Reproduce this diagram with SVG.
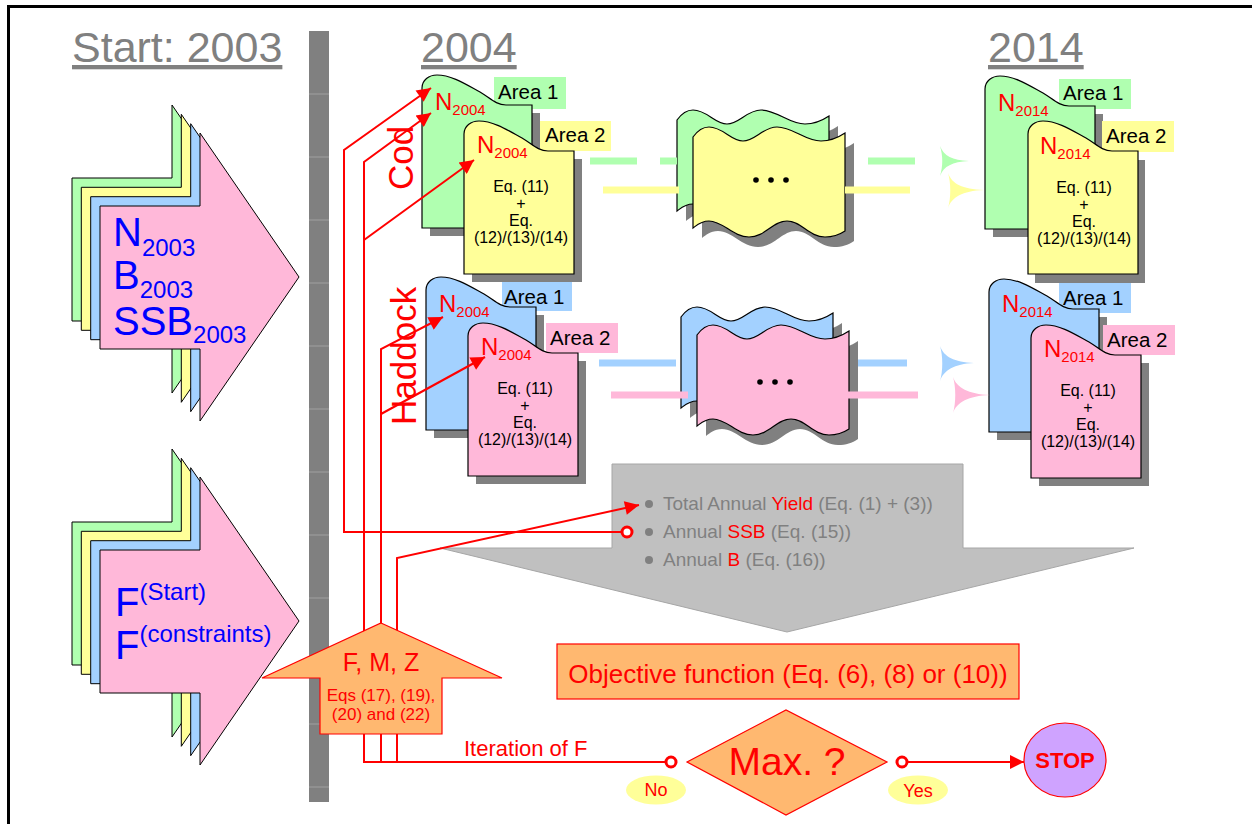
<svg xmlns="http://www.w3.org/2000/svg" xmlns:xlink="http://www.w3.org/1999/xlink" width="1252" height="824" viewBox="0 0 1252 824">
<style>
text{font-family:"Liberation Sans",Arial,sans-serif}
.title{font-size:43px;fill:#808080;text-decoration:underline}
.sh{fill:#808080;stroke:none}
.G{fill:#B0FFB0}.Y{fill:#FFFF99}.B{fill:#A3D1FF}.P{fill:#FFB8D9}
.ol{stroke:#000;stroke-width:1.2}
.area{font-size:20.5px;fill:#000}
.nr{font-size:24px;fill:#f00}
.sub{font-size:15px}
.eq{font-size:16px;fill:#000;text-anchor:middle}
.big{font-size:40px;fill:#00f}
.bsub{font-size:24px}
.red{fill:#f00}
.gt{font-size:19px;fill:#808080}
.con{fill:none;stroke:#f00;stroke-width:2}
.orange{fill:#FFB870;stroke:#f00;stroke-width:1.2}
.flow{stroke-width:7;fill:none}
</style>
<defs>
<path id="pg" d="M0,153V13C0,5 7,0 15,0C30,0 45,10 58,17C68,23 74,30 84,30H110V153Z"/>
<path id="wv" d="M0,10C5,3 10,0 16,0C30,0 38,14 50,14C62,14 70,0 84,0C100,0 112,14 128,14C138,14 146,10 152,6L152,104C146,108 140,110 132,110C116,110 108,94 94,94C80,94 72,110 56,110C40,110 30,94 16,94C8,94 4,98 0,101Z"/>
<path id="arr" d="M0,73H100V0L199,144L100,288V216H0Z"/>
<marker id="ah" viewBox="0 0 10 10" refX="10" refY="5" markerWidth="18" markerHeight="14" markerUnits="userSpaceOnUse" orient="auto">
<path d="M0,0L10,5L0,10Z" fill="#f00"/>
</marker>
</defs>
<rect width="1252" height="824" fill="#fff"/>
<path d="M8.5,824V6.5H1252" fill="none" stroke="#000" stroke-width="3"/>

<g id="titles">
<text x="72" y="62" class="title">Start: 2003</text>
<text x="421" y="62" class="title">2004</text>
<text x="988" y="62" class="title">2014</text>
</g>

<g id="start-state">
<use href="#arr" x="72" y="105" class="G" stroke="#000"/>
<use href="#arr" x="81.3" y="114.3" class="Y" stroke="#000"/>
<use href="#arr" x="90.7" y="123.7" class="B" stroke="#000"/>
<use href="#arr" x="100" y="133" class="P" stroke="#000"/>
<text x="113" y="246" class="big">N<tspan class="bsub" dy="10">2003</tspan></text>
<text x="113" y="289" class="big">B<tspan class="bsub" dy="9">2003</tspan></text>
<text x="113" y="335" class="big">SSB<tspan class="bsub" dy="8">2003</tspan></text>
</g>

<g id="start-F">
<use href="#arr" x="72" y="449" class="G" stroke="#000"/>
<use href="#arr" x="81.3" y="458.3" class="Y" stroke="#000"/>
<use href="#arr" x="90.7" y="467.7" class="B" stroke="#000"/>
<use href="#arr" x="100" y="477" class="P" stroke="#000"/>
<text x="115" y="616" class="big">F<tspan class="bsub" dy="-16">(Start)</tspan></text>
<text x="115" y="659" class="big">F<tspan class="bsub" dy="-17">(constraints)</tspan></text>
</g>

<g id="timebar">
<rect x="309" y="31" width="20" height="771" fill="#808080"/>
<path d="M309,94H329M309,157H329M309,220H329M309,283H329M309,346H329M309,409H329M309,472H329M309,535H329M309,598H329M309,661H329M309,724H329M309,787H329" stroke="#a0a0a0" stroke-width="1"/>
</g>

<g id="cod-2004" transform="translate(422,75)">
<use href="#pg" x="8" y="8" class="sh"/>
<rect x="72" y="2" width="72" height="32" class="G"/>
<use href="#pg" class="G ol"/>
<text x="76" y="24" class="area">Area 1</text>
<text x="13" y="35" class="nr">N<tspan class="sub" dy="5">2004</tspan></text>
<use href="#pg" x="50" y="54" class="sh"/>
<rect x="118" y="46" width="71" height="30" class="Y"/>
<use href="#pg" x="42" y="46" class="Y ol"/>
<text x="123" y="67" class="area">Area 2</text>
<text x="55" y="78" class="nr">N<tspan class="sub" dy="5">2004</tspan></text>
<text x="99" y="117" class="eq">Eq. (11)</text>
<text x="99" y="134" class="eq">+</text>
<text x="99" y="151" class="eq">Eq.</text>
<text x="99" y="168" class="eq">(12)/(13)/(14)</text>
</g>

<g id="haddock-2004" transform="translate(426,277)">
<use href="#pg" x="8" y="8" class="sh"/>
<rect x="76" y="5" width="70" height="29" class="B"/>
<use href="#pg" class="B ol"/>
<text x="78" y="27" class="area">Area 1</text>
<text x="13" y="35" class="nr">N<tspan class="sub" dy="5">2004</tspan></text>
<use href="#pg" x="50" y="54" class="sh"/>
<rect x="120" y="46" width="72" height="30" class="P"/>
<use href="#pg" x="42" y="46" class="P ol"/>
<text x="124" y="68" class="area">Area 2</text>
<text x="55" y="78" class="nr">N<tspan class="sub" dy="5">2004</tspan></text>
<text x="99" y="117" class="eq">Eq. (11)</text>
<text x="99" y="134" class="eq">+</text>
<text x="99" y="151" class="eq">Eq.</text>
<text x="99" y="168" class="eq">(12)/(13)/(14)</text>
</g>

<g id="cod-2014" transform="translate(985,76)">
<use href="#pg" x="8" y="8" class="sh"/>
<rect x="74" y="3" width="72" height="30" class="G"/>
<use href="#pg" class="G ol"/>
<text x="78" y="24" class="area">Area 1</text>
<text x="13" y="35" class="nr">N<tspan class="sub" dy="5">2014</tspan></text>
<use href="#pg" x="50" y="54" class="sh"/>
<rect x="117" y="45" width="72" height="31" class="Y"/>
<use href="#pg" x="43" y="45" class="Y ol"/>
<text x="121" y="67" class="area">Area 2</text>
<text x="55" y="78" class="nr">N<tspan class="sub" dy="5">2014</tspan></text>
<text x="99" y="117" class="eq">Eq. (11)</text>
<text x="99" y="134" class="eq">+</text>
<text x="99" y="151" class="eq">Eq.</text>
<text x="99" y="168" class="eq">(12)/(13)/(14)</text>
</g>

<g id="haddock-2014" transform="translate(989,279)">
<use href="#pg" x="8" y="8" class="sh"/>
<rect x="70" y="4" width="72" height="30" class="B"/>
<use href="#pg" class="B ol"/>
<text x="74" y="26" class="area">Area 1</text>
<text x="13" y="33" class="nr">N<tspan class="sub" dy="5">2014</tspan></text>
<use href="#pg" x="50" y="54" class="sh"/>
<rect x="114" y="46" width="72" height="30" class="P"/>
<use href="#pg" x="42" y="46" class="P ol"/>
<text x="118" y="68" class="area">Area 2</text>
<text x="55" y="78" class="nr">N<tspan class="sub" dy="5">2014</tspan></text>
<text x="99" y="117" class="eq">Eq. (11)</text>
<text x="99" y="134" class="eq">+</text>
<text x="99" y="151" class="eq">Eq.</text>
<text x="99" y="168" class="eq">(12)/(13)/(14)</text>
</g>

<g id="cod-years" transform="translate(677,110)">
<use href="#wv" x="9" y="10" class="sh"/>
<use href="#wv" class="G ol"/>
<use href="#wv" x="25" y="27" class="sh"/>
<use href="#wv" x="16" y="17" class="Y ol"/>
<circle cx="79" cy="70" r="2.8"/><circle cx="94" cy="70" r="2.8"/><circle cx="109" cy="70" r="2.8"/>
</g>

<g id="haddock-years" transform="translate(681,307)">
<use href="#wv" x="9" y="10" class="sh"/>
<use href="#wv" class="B ol"/>
<use href="#wv" x="25" y="28" class="sh"/>
<use href="#wv" x="16" y="18" class="P ol"/>
<circle cx="79" cy="75" r="2.8"/><circle cx="94" cy="75" r="2.8"/><circle cx="109" cy="75" r="2.8"/>
</g>

<g id="outputs">
<path d="M612,464H963V548H1134L787,632L440,548H612Z" fill="#C0C0C0" stroke="#a6a6a6" stroke-width="1"/>
<circle cx="649" cy="504" r="4" fill="#808080"/>
<circle cx="649" cy="532" r="4" fill="#808080"/>
<circle cx="649" cy="560" r="4" fill="#808080"/>
<text x="663" y="510" class="gt">Total Annual <tspan class="red">Yield</tspan> (Eq. (1) + (3))</text>
<text x="663" y="538" class="gt">Annual <tspan class="red">SSB</tspan> (Eq. (15))</text>
<text x="663" y="566" class="gt">Annual <tspan class="red">B</tspan> (Eq. (16))</text>
</g>

<g id="species-labels">
<text transform="translate(413,190) rotate(-90)" font-size="35" fill="#f00">Cod</text>
<text transform="translate(416,425) rotate(-90)" font-size="35" fill="#f00">Haddock</text>
</g>

<g id="connectors">
<path d="M590,161H637M660,161H677M868,161H915" class="flow" stroke="#B0FFB0"/>
<path d="M940,146C944,156 952,160 969,161C952,162 944,166 940,176C943,166 943,156 940,146Z" fill="#B0FFB0"/>
<path d="M603,190H679M845,190H910" class="flow" stroke="#FFFF99"/>
<path d="M948,173C952,184 962,189 984,190C962,191 952,197 948,208C951,198 951,183 948,173Z" fill="#FFFF99"/>
<path d="M599,363H676M858,363H907" class="flow" stroke="#A3D1FF"/>
<path d="M940,346C944,357 954,362 974,363C954,364 944,370 940,381C943,371 943,356 940,346Z" fill="#A3D1FF"/>
<path d="M611,395H688M848,395H918" class="flow" stroke="#FFB8D9"/>
<path d="M953,377C957,388 968,394 990,395C968,396 957,402 953,413C956,403 956,387 953,377Z" fill="#FFB8D9"/>

<path d="M622,532H344V150L431,88" class="con" marker-end="url(#ah)"/>
<path d="M666,762H364V162L431,113" class="con" marker-end="url(#ah)"/>
<path d="M364,240L474,160" class="con" marker-end="url(#ah)"/>
<path d="M381,762V349L443,317" class="con" marker-end="url(#ah)"/>
<path d="M381,414L485,357" class="con" marker-end="url(#ah)"/>
<path d="M397,762V558L639,505" class="con" marker-end="url(#ah)"/>
<circle cx="627" cy="532" r="5" fill="#fff" stroke="#f00" stroke-width="3"/>
<path d="M907,762H1024" class="con" marker-end="url(#ah)"/>
<circle cx="671" cy="762" r="5" fill="#fff" stroke="#f00" stroke-width="3"/>
<circle cx="902" cy="762" r="5" fill="#fff" stroke="#f00" stroke-width="3"/>
<text x="464" y="756" font-size="22" fill="#f00">Iteration of F</text>
</g>

<g id="fmz">
<path d="M381,623L502,678H442V734H320V678H262Z" class="orange"/>
<text x="381" y="671" font-size="25" fill="#f00" text-anchor="middle">F, M, Z</text>
<text x="381" y="701" font-size="17" fill="#f00" text-anchor="middle">Eqs (17), (19),</text>
<text x="381" y="720" font-size="17" fill="#f00" text-anchor="middle">(20) and (22)</text>
</g>

<g id="objective">
<rect x="557" y="644" width="462" height="55" class="orange"/>
<text x="788" y="683" font-size="26" fill="#f00" text-anchor="middle">Objective function (Eq. (6), (8) or (10))</text>
</g>

<g id="max">
<path d="M687,762L786,710L887,762L786,815Z" class="orange"/>
<text x="787" y="775" font-size="39" fill="#f00" text-anchor="middle">Max. ?</text>
</g>

<g id="no">
<ellipse cx="656" cy="790" rx="30" ry="14.5" fill="#FFFF99"/>
<text x="656" y="796" font-size="18" fill="#f00" text-anchor="middle">No</text>
</g>
<g id="yes">
<ellipse cx="918" cy="790" rx="30" ry="14.5" fill="#FFFF99"/>
<text x="918" y="797" font-size="18" fill="#f00" text-anchor="middle">Yes</text>
</g>

<g id="stop">
<ellipse cx="1065" cy="760" rx="41" ry="37" fill="#CFA3FF" stroke="#f00" stroke-width="1.2"/>
<text x="1065" y="768" font-size="22" font-weight="bold" fill="#f00" text-anchor="middle">STOP</text>
</g>
</svg>
